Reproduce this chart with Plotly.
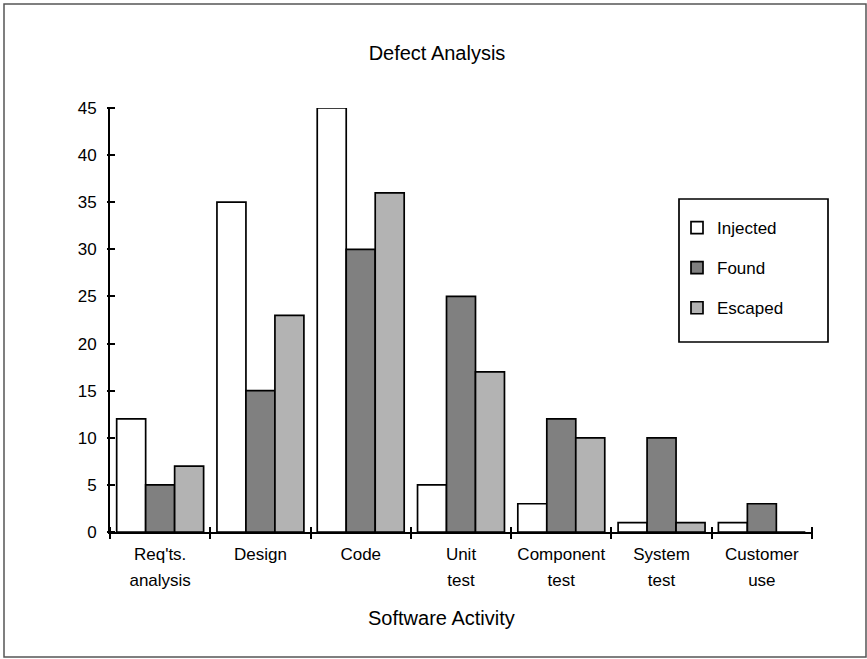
import plotly.graph_objects as go

categories = ["Req'ts.<br>analysis", "Design", "Code", "Unit<br>test",
              "Component<br>test", "System<br>test", "Customer<br>use"]
injected = [12, 35, 45, 5, 3, 1, 1]
found = [5, 15, 30, 25, 12, 10, 3]
escaped = [7, 23, 36, 17, 10, 1, 0]
y_ticks = [0, 5, 10, 15, 20, 25, 30, 35, 40, 45]

FONT = "Arial, 'Liberation Sans', sans-serif"
W, H = 867, 659
L, R, T, B = 110, 55, 108, 127
PW, PH = W - L - R, H - T - B

line1 = [c.split("<br>")[0] for c in categories]
line2 = [c.split("<br>")[1] if "<br>" in c else "" for c in categories]
idx = list(range(len(categories)))
bounds = [i - 0.5 for i in range(len(categories) + 1)]

fig = go.Figure()
for name, vals, col in [("Injected", injected, "#ffffff"),
                        ("Found", found, "#808080"),
                        ("Escaped", escaped, "#b3b3b3")]:
    fig.add_trace(go.Bar(name=name, x=categories, y=vals, legendgroup=name,
                         marker=dict(color=col, line=dict(color="black", width=1.7)),
                         hoverinfo="skip"))

# helper empty traces so overlay axes are drawn
fig.add_trace(go.Scatter(x=[], y=[], xaxis="x2", yaxis="y", showlegend=False, hoverinfo="skip"))
fig.add_trace(go.Scatter(x=[], y=[], xaxis="x3", yaxis="y", showlegend=False, hoverinfo="skip"))
fig.add_trace(go.Scatter(x=[], y=[], xaxis="x", yaxis="y2", showlegend=False, hoverinfo="skip"))

rng = [-0.5, len(categories) - 0.5]

fig.update_layout(
    width=W, height=H,
    margin=dict(l=L, r=R, t=T, b=B),
    paper_bgcolor="white", plot_bgcolor="white",
    font=dict(family=FONT, size=17, color="black"),
    barmode="group", bargap=0.133, bargroupgap=0,
    showlegend=True,
    legend=dict(x=(695 - 18 - L) / PW, y=(532 - 210) / PH, xanchor="left", yanchor="top",
                bgcolor="rgba(0,0,0,0)", borderwidth=0,
                traceorder="grouped", tracegroupgap=15,
                font=dict(family=FONT, size=17)),
    title=dict(text="Defect Analysis", x=437 / W, xref="container", xanchor="center",
               y=1 - 53 / H, yref="container", yanchor="middle",
               font=dict(family=FONT, size=20)),
    xaxis=dict(type="category", range=rng, categoryorder="array", categoryarray=categories,
               tickvals=categories, ticktext=line1, ticks="",
               showline=True, linecolor="black", linewidth=2, showgrid=False,
               zeroline=False, ticklabelstandoff=6),
    xaxis2=dict(overlaying="x", anchor="free", position=6 / PH, range=rng,
                tickvals=bounds, ticks="outside", ticklen=12, tickwidth=2, tickcolor="black",
                showticklabels=False, showline=False, showgrid=False, zeroline=False),
    xaxis3=dict(overlaying="x", anchor="y", range=rng, tickvals=idx, ticktext=line2,
                ticks="", showline=False, showgrid=False, zeroline=False,
                ticklabelstandoff=36),
    yaxis=dict(range=[0, 45], tickvals=y_ticks, ticks="", showline=True,
               linecolor="black", linewidth=2, showgrid=False, zeroline=False,
               ticklabelstandoff=8),
    yaxis2=dict(overlaying="y", anchor="free", position=5 / PW, side="left", range=[0, 45],
                tickvals=y_ticks, ticks="outside", ticklen=8, tickwidth=2, tickcolor="black",
                showticklabels=False, showline=False, showgrid=False, zeroline=False),
    annotations=[dict(text="Software Activity", x=(441 - L) / PW, y=(532 - 618) / PH,
                      xref="paper", yref="paper", xanchor="center", yanchor="middle",
                      showarrow=False, font=dict(family=FONT, size=20))],
    shapes=[
        dict(type="rect", xref="paper", yref="paper",
             x0=(4 - L) / PW, x1=(866 - L) / PW, y0=(532 - 657) / PH, y1=(532 - 4) / PH,
             line=dict(color="#555555", width=1.5), fillcolor="rgba(0,0,0,0)", layer="below"),
        dict(type="rect", xref="paper", yref="paper",
             x0=(679 - L) / PW, x1=(828 - L) / PW, y0=(532 - 342) / PH, y1=(532 - 199) / PH,
             line=dict(color="black", width=1.7), fillcolor="white", layer="below"),
    ],
)

fig.write_html("out.html", config={"displayModeBar": False},
               post_script="document.body.style.margin='0px';document.body.style.overflow='hidden';")
